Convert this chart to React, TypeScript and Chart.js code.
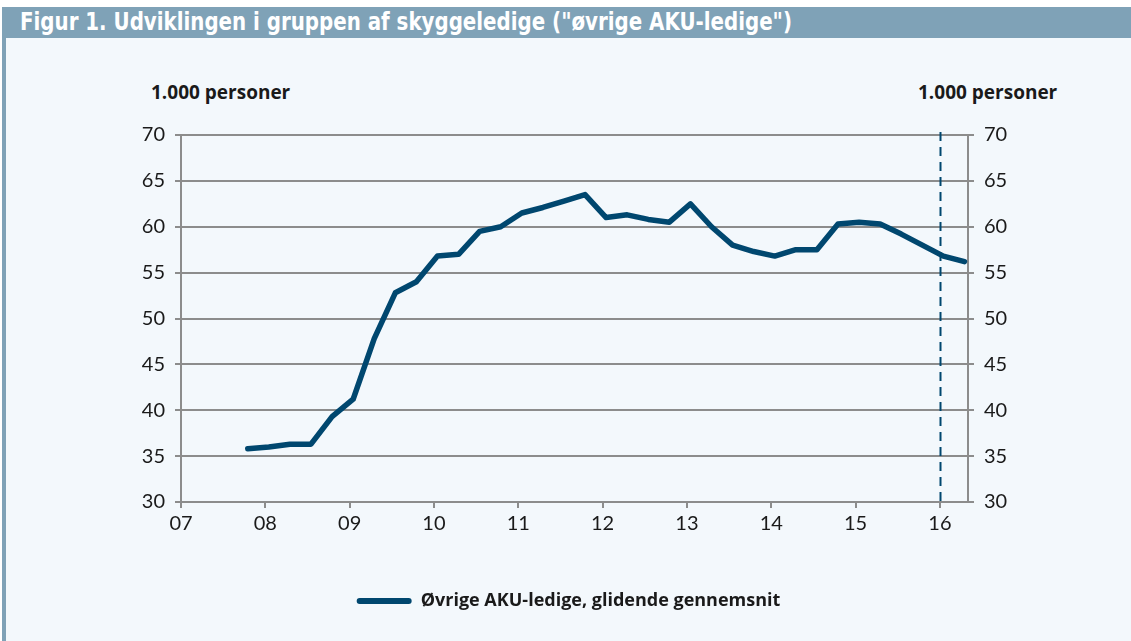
import React, { useEffect, useRef } from "react";
import { Chart, registerables } from "chart.js";

Chart.register(...registerables);

// Quarterly periods (year + quarter) and values (1.000 personer)
const periods = [
  "2007K4",
  "2008K1", "2008K2", "2008K3", "2008K4",
  "2009K1", "2009K2", "2009K3", "2009K4",
  "2010K1", "2010K2", "2010K3", "2010K4",
  "2011K1", "2011K2", "2011K3", "2011K4",
  "2012K1", "2012K2", "2012K3", "2012K4",
  "2013K1", "2013K2", "2013K3", "2013K4",
  "2014K1", "2014K2", "2014K3", "2014K4",
  "2015K1", "2015K2", "2015K3", "2015K4",
  "2016K1", "2016K2",
];

const values = [
  35.8,
  36.0, 36.3, 36.3, 39.3,
  41.2, 47.8, 52.8, 54.0,
  56.8, 57.0, 59.5, 60.0,
  61.5, 62.1, 62.8, 63.5,
  61.0, 61.3, 60.8, 60.5,
  62.5, 60.0, 58.0, 57.3,
  56.8, 57.5, 57.5, 60.3,
  60.5, 60.3, 59.2, 58.0,
  56.8, 56.2,
];

const xTickYears = [2007, 2008, 2009, 2010, 2011, 2012, 2013, 2014, 2015, 2016];
const xMin = 2007;
const xMax = 2016 + 1 / 3;
const yMin = 30;
const yMax = 70;
const yStep = 5;
const markerYear = 2016;

const seriesLabel = "Øvrige AKU-ledige, glidende gennemsnit";
const titleText = 'Figur 1. Udviklingen i gruppen af skyggeledige ("øvrige AKU-ledige")';
const axisTitle = "1.000 personer";

const LINE_COLOR = "#00476f";
const GRID_COLOR = "#8c8c8c";
const TEXT_COLOR = "#1a1a1a";
const BAR_COLOR = "#7fa2b7";
const PANEL_COLOR = "#f3f8fc";
const BOLD_FAMILY = "'Open Sans', Lato, sans-serif";

function periodToX(p: string): number {
  const year = Number(p.slice(0, 4));
  const q = Number(p.slice(5));
  return year + (q - 1) / 4 + 1 / 24;
}

const markerPlugin = {
  id: "markerLine",
  afterDatasetsDraw(chart: any) {
    const { ctx, chartArea, scales } = chart;
    const x = Math.round(scales.x.getPixelForValue(markerYear)) + 0.5;
    ctx.save();
    ctx.strokeStyle = LINE_COLOR;
    ctx.lineWidth = 2;
    ctx.setLineDash([9, 6]);
    ctx.beginPath();
    ctx.moveTo(x, chartArea.top - 3);
    ctx.lineTo(x, chartArea.bottom);
    ctx.stroke();
    ctx.restore();
  },
};

export default function App() {
  const canvasRef = useRef<HTMLCanvasElement | null>(null);
  const titleRef = useRef<HTMLSpanElement | null>(null);

  useEffect(() => {
    document.body.style.margin = "0";
    const t = titleRef.current;
    if (t) {
      const w = t.getBoundingClientRect().width;
      if (w > 0) t.style.transform = `scaleX(${772 / w})`;
    }
    const canvas = canvasRef.current;
    if (!canvas) return;
    const tickFont = { family: "Lato, 'Open Sans', sans-serif", size: 20 };
    const chart = new Chart(canvas, {
      type: "line",
      data: {
        datasets: [
          {
            label: seriesLabel,
            data: periods.map((p, i) => ({ x: periodToX(p), y: values[i] })),
            borderColor: LINE_COLOR,
            backgroundColor: LINE_COLOR,
            borderWidth: 5.5,
            pointRadius: 0,
            tension: 0,
            borderCapStyle: "round",
            borderJoinStyle: "round",
            yAxisID: "y",
          },
        ],
      },
      options: {
        responsive: false,
        animation: false,
        layout: { padding: { top: 97, left: 0, right: 0, bottom: 21 } },
        plugins: {
          tooltip: { enabled: false },
          legend: {
            position: "bottom",
            labels: {
              boxWidth: 55,
              boxHeight: 6,
              padding: 10,
              color: TEXT_COLOR,
              font: { family: BOLD_FAMILY, size: 18, weight: "bold" },
              useBorderRadius: true,
              borderRadius: 3,
              generateLabels: (c: any) => {
                const items = Chart.defaults.plugins.legend.labels.generateLabels(c);
                items.forEach((it: any) => {
                  it.lineWidth = 0;
                  it.fillStyle = LINE_COLOR;
                  it.borderRadius = 3;
                });
                return items;
              },
            },
          },
        },
        scales: {
          x: {
            type: "linear",
            min: xMin,
            max: xMax,
            afterBuildTicks: (s: any) => {
              s.ticks = xTickYears.map((v) => ({ value: v }));
            },
            afterFit: (s: any) => {
              s.height = 80;
            },
            ticks: {
              autoSkip: false,
              maxRotation: 0,
              padding: 4,
              color: TEXT_COLOR,
              font: tickFont,
              callback: (v: any) => String(Number(v) % 100).padStart(2, "0"),
            },
            grid: { drawOnChartArea: false, drawTicks: true, tickLength: 6, color: GRID_COLOR, lineWidth: 2 },
            border: { display: true, color: GRID_COLOR, width: 2 },
          },
          y: {
            position: "left",
            min: yMin,
            max: yMax,
            afterFit: (s: any) => {
              s.width = 175;
            },
            ticks: { stepSize: yStep, padding: 10, color: TEXT_COLOR, font: tickFont },
            grid: { color: GRID_COLOR, lineWidth: 2, tickLength: 6, drawTicks: true },
            border: { display: true, color: GRID_COLOR, width: 2 },
          },
          y2: {
            position: "right",
            min: yMin,
            max: yMax,
            afterFit: (s: any) => {
              s.width = 163;
            },
            ticks: { stepSize: yStep, padding: 10, color: TEXT_COLOR, font: tickFont },
            grid: { drawOnChartArea: false, color: GRID_COLOR, lineWidth: 2, tickLength: 6, drawTicks: true },
            border: { display: true, color: GRID_COLOR, width: 2 },
          },
        },
      },
      plugins: [markerPlugin],
    } as any);
    return () => chart.destroy();
  }, []);

  const axisTitleStyle: React.CSSProperties = {
    position: "absolute",
    top: 79,
    fontFamily: BOLD_FAMILY,
    fontWeight: 700,
    fontSize: 19,
    lineHeight: "26px",
    color: TEXT_COLOR,
    whiteSpace: "nowrap",
  };

  return (
    <div style={{ position: "absolute", left: 0, top: 0, width: 1131, height: 641, background: "#ffffff", overflow: "hidden" }}>
      <div
        style={{
          position: "absolute",
          left: 2,
          top: 7,
          width: 1129,
          height: 31,
          background: BAR_COLOR,
          boxSizing: "border-box",
          overflow: "hidden",
        }}
      >
        <span
          ref={titleRef}
          style={{
            position: "absolute",
            left: 18,
            top: 0,
            color: "#ffffff",
            fontFamily: "'DejaVu Sans Condensed', 'DejaVu Sans', sans-serif",
            fontWeight: 700,
            fontSize: 24,
            lineHeight: "30px",
            whiteSpace: "nowrap",
            transformOrigin: "left center",
            display: "inline-block",
          }}
        >
          {titleText}
        </span>
      </div>
      <div style={{ position: "absolute", left: 2, top: 38, width: 4, height: 603, background: BAR_COLOR }} />
      <div style={{ position: "absolute", left: 6, top: 38, width: 1125, height: 603, background: PANEL_COLOR }} />
      <div style={{ ...axisTitleStyle, left: 151 }}>{axisTitle}</div>
      <div style={{ ...axisTitleStyle, left: 918 }}>{axisTitle}</div>
      <canvas ref={canvasRef} width={1125} height={603} style={{ position: "absolute", left: 6, top: 38, width: 1125, height: 603 }} />
    </div>
  );
}
